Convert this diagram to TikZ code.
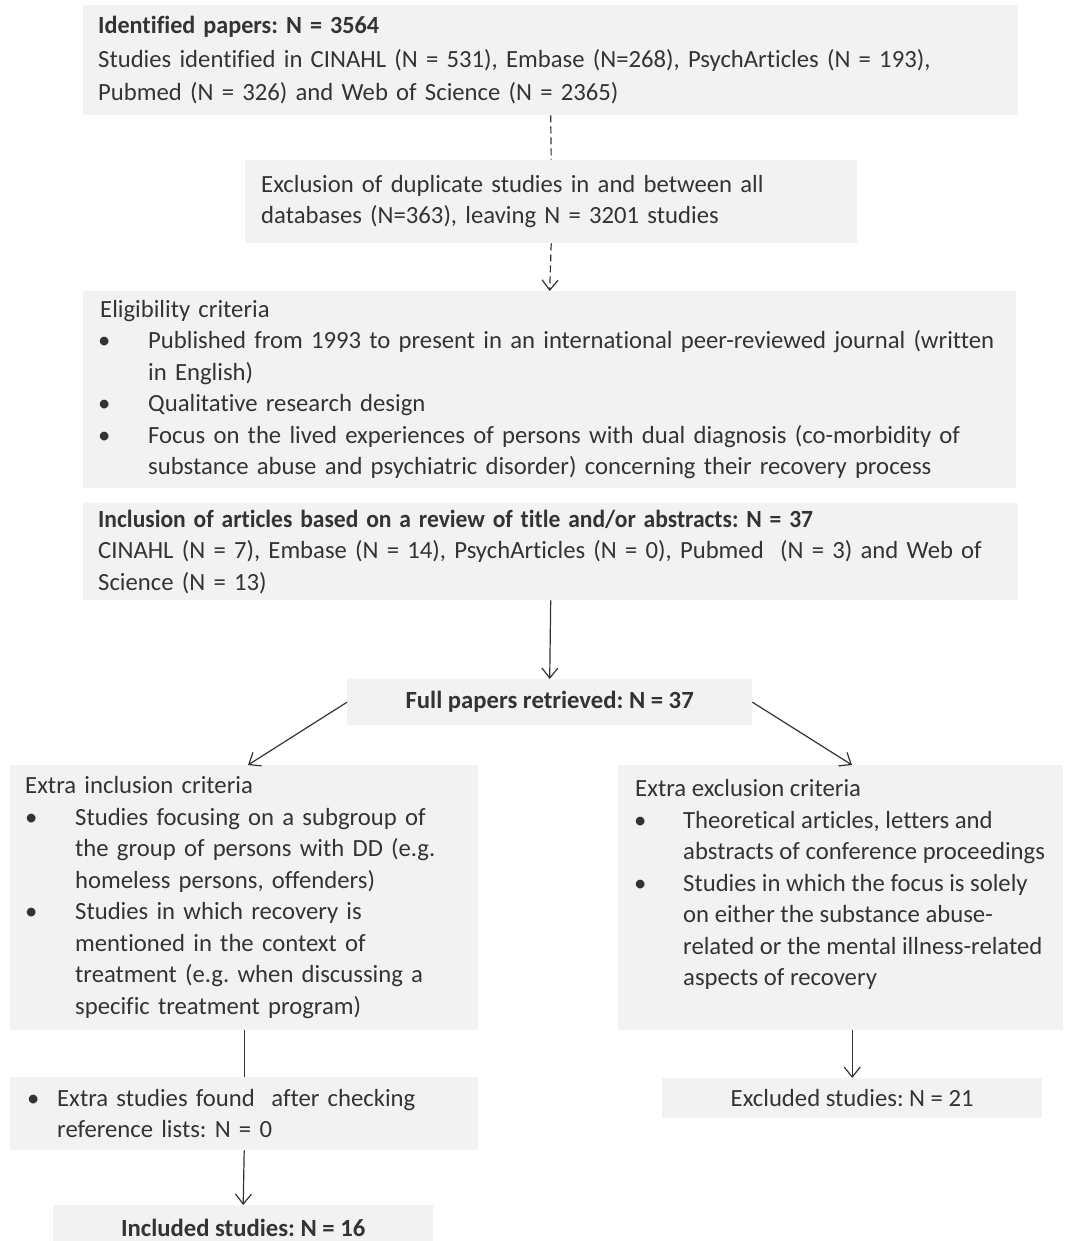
\documentclass[tikz,border=0pt]{standalone}
\usepackage{fontspec}
\usepackage{graphicx}
\setmainfont[Ligatures=NoCommon]{Carlito}
\usetikzlibrary{arrows.meta,calc}
\definecolor{boxgray}{HTML}{F2F2F2}
\definecolor{ink}{HTML}{333333}
\newcommand{\bul}[2]{\hspace*{#1}\makebox[#2][l]{\textbullet}}
\newcommand{\ind}[1]{\hspace*{#1}}
\newcommand{\oneline}[1]{\mbox{#1}}
\frenchspacing
\begin{document}
\begin{tikzpicture}[x=1pt,y=-1pt,
  box/.style={fill=boxgray, draw=none, anchor=north west, inner xsep=15pt, inner ysep=0pt,
    align=left, font=\fontsize{24.7}{31.5}\selectfont, text=ink},
  cbox/.style={fill=boxgray, draw=none, anchor=north west, inner sep=0pt,
    align=center, font=\fontsize{24.7}{31.5}\selectfont, text=ink},
  arr/.style={draw=ink, line width=1.2pt, -{Straight Barb[length=10pt,width=16pt]}},
  ln/.style={draw=ink, line width=1.2pt},
  dsh/.style={draw=ink, line width=1.2pt, dash pattern=on 7pt off 4pt},
]
\useasboundingbox[fill=white] (0,0) rectangle (1075,1241);

\node[box, minimum width=935pt, minimum height=110pt, text width=905pt,
  font=\fontsize{24.7}{33.5}\selectfont] (ident) at (83,5)
 {\scalebox{0.977}[1]{\textbf{Identified papers: N = 3564}}\\
  \oneline{Studies identified in CINAHL (N = 531), Embase (N=268), PsychArticles (N = 193),}\\
  \oneline{Pubmed (N = 326) and Web of Science (N = 2365)}};

\node[box, inner xsep=16pt, minimum width=612pt, minimum height=83pt, text width=580pt] (dup) at (245,160)
 {\oneline{Exclusion of duplicate studies in and between all}\\
  \oneline{databases (N=363), leaving N = 3201 studies}};

\node[box, inner xsep=17pt, minimum width=933pt, minimum height=197pt, text width=899pt] (elig) at (83,291)
 {Eligibility criteria\\
  \bul{-2pt}{50pt}\oneline{Published from 1993 to present in an international peer-reviewed journal (written}\\
  \ind{48pt}in English)\\
  \bul{-2pt}{50pt}Qualitative research design\\
  \bul{-2pt}{50pt}\oneline{Focus on the lived experiences of persons with dual diagnosis (co-morbidity of}\\
  \ind{48pt}\oneline{substance abuse and psychiatric disorder) concerning their recovery process}};

\node[box, minimum width=935pt, minimum height=97pt, text width=905pt] (incl) at (83,503)
 {\scalebox{0.953}[1]{\textbf{Inclusion of articles based on a review of title and/or abstracts: N = 37}}\\
  \oneline{CINAHL (N = 7), Embase (N = 14), PsychArticles (N = 0), Pubmed~ (N = 3) and Web of}\\
  Science (N = 13)};

\node[cbox, minimum width=405pt, minimum height=46pt] (full) at (347,679)
 {\textbf{Full papers retrieved: N = 37}};

\node[box, minimum width=468pt, minimum height=265pt, text width=438pt] (exinc) at (10,765)
 {Extra inclusion criteria\\
  \bul{0pt}{50pt}\oneline{Studies focusing on a subgroup of}\\
  \ind{50pt}\oneline{the group of persons with DD (e.g.}\\
  \ind{50pt}\oneline{homeless persons, offenders)}\\
  \bul{0pt}{50pt}\oneline{Studies in which recovery is}\\
  \ind{50pt}\oneline{mentioned in the context of}\\
  \ind{50pt}\oneline{treatment (e.g. when discussing a}\\
  \ind{50pt}\oneline{specific treatment program)}};

\node[box, inner xsep=17pt, minimum width=445pt, minimum height=265pt] (exexc) at (618,765)
 {\parbox[c][236pt][t]{411pt}{\raggedright
  Extra exclusion criteria\\
  \bul{-1pt}{49pt}\oneline{Theoretical articles, letters and}\\
  \ind{48pt}\oneline{abstracts of conference proceedings}\\
  \bul{-1pt}{49pt}\oneline{Studies in which the focus is solely}\\
  \ind{48pt}\oneline{on either the substance abuse-}\\
  \ind{48pt}\oneline{related or the mental illness-related}\\
  \ind{48pt}\oneline{aspects of recovery}}};

\node[box, inner xsep=20pt, minimum width=468pt, minimum height=73pt, text width=428pt] (extra) at (10,1077)
 {\bul{-3pt}{30pt}\oneline{Extra studies found~ after checking}\\
  \ind{27pt}\oneline{reference lists: N = 0}};

\node[cbox, minimum width=380pt, minimum height=40pt] (excl) at (662,1078)
 {Excluded studies: N = 21};

\node[cbox, minimum width=380pt, minimum height=46pt] (incd) at (53,1205)
 {\textbf{Included studies: N = 16}};

% connectors
\draw[dsh] (ident.south) -- (dup.north);
\draw[dsh, -{Straight Barb[length=10pt,width=16pt]}] (dup.south) -- (elig.north);
\draw[arr] (incl.south) -- (full.north);
\draw[arr] (full.west) -- ($(exinc.north west)+(238,0)$);
\draw[arr] (full.east) -- ($(exexc.north west)+(234,0)$);
\draw[ln] (exinc.south) -- (extra.north);
\draw[arr] (extra.south) -- (incd.north);
\draw[arr] (exexc.south -| excl.north) -- (excl.north);
\end{tikzpicture}
\end{document}
